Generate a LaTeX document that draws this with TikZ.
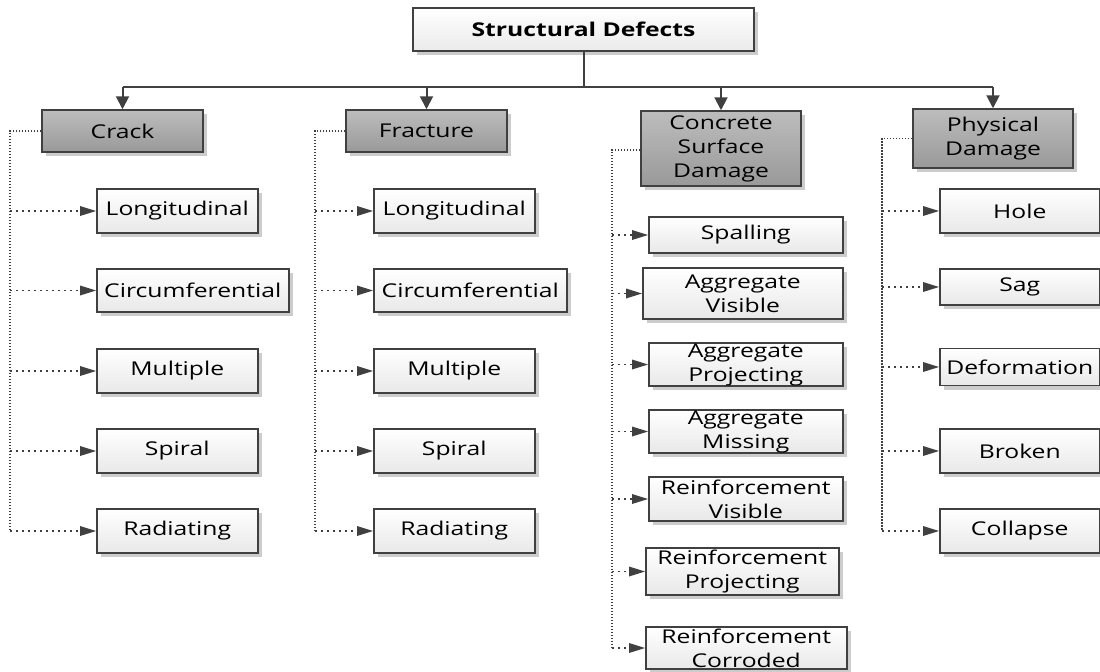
\documentclass[tikz,border=0pt]{standalone}
\usepackage{fontspec}
\setmainfont{Open Sans}[FakeStretch=1.3]
\usetikzlibrary{arrows.meta, shadows}

\definecolor{linegray}{RGB}{64,64,64}

\tikzset{
  box/.style={draw=linegray, line width=0.75pt, inner sep=0pt, align=center,
    font=\fontsize{9.5}{12}\selectfont,
    drop shadow={shadow xshift=2pt, shadow yshift=-2pt, fill=black, opacity=0.2}},
  leafbox/.style={box, top color=white, bottom color=black!9, anchor=west},
  groupbox/.style={box, top color=black!26, bottom color=black!40},
  rootbox/.style={box, top color=white, bottom color=black!8, font=\fontsize{9.5}{12}\selectfont\bfseries},
  busline/.style={draw=linegray, line width=1pt},
  busarrow/.style={busline, -{Triangle[width=6.5pt, length=6.5pt]}},
  spine/.style={draw=linegray, line width=0.7pt, dash pattern=on 0.7pt off 0.8pt},
  twig/.style={draw=linegray, line width=0.7pt, dash pattern=on 0.8pt off 2.2pt,
    -{Triangle[width=5pt, length=8pt, line width=0pt]}}
}

\begin{document}
\begin{tikzpicture}[x=0.5pt, y=-0.5pt]
  \useasboundingbox (0,0) rectangle (1100,671);

  \node[rootbox, minimum width=170.5pt, minimum height=21.5pt] (root) at (583.5,29.5) {Structural Defects};

  \node[groupbox, minimum width=80.5pt, minimum height=21pt] (crack) at (122.5,131) {Crack};
  \node[groupbox, minimum width=80.5pt, minimum height=21pt] (fracture) at (426.5,131) {Fracture};
  \node[groupbox, minimum width=80pt, minimum height=37.5pt] (surface) at (721,148.5) {Concrete\\Surface\\Damage};
  \node[groupbox, minimum width=80pt, minimum height=29.5pt] (physical) at (993,138.5) {Physical\\Damage};

  \coordinate (bus) at (583.5,87);
  \draw[busline] (root.south) -- (bus);
  \draw[busline] (crack.north |- bus) -- (physical.north |- bus);
  \draw[busarrow] (crack.north |- bus) -- (crack.north);
  \draw[busarrow] (fracture.north |- bus) -- (fracture.north);
  \draw[busarrow] (surface.north |- bus) -- (surface.north);
  \draw[busarrow] (physical.north |- bus) -- (physical.north);

  % crack
  \node[leafbox, minimum width=80.5pt, minimum height=22pt] (c1) at (96,211) {Longitudinal};
  \node[leafbox, minimum width=96pt, minimum height=21.5pt] (c2) at (96,290.5) {Circumferential};
  \node[leafbox, minimum width=80.5pt, minimum height=22pt] (c3) at (96,371) {Multiple};
  \node[leafbox, minimum width=80.5pt, minimum height=22pt] (c4) at (96,451) {Spiral};
  \node[leafbox, minimum width=80.5pt, minimum height=22pt] (c5) at (96,531) {Radiating};
  \coordinate (cs) at (10,131);
  \draw[spine] (crack.west) -- (cs) -- (cs |- c5.west);
  \draw[twig] (cs |- c1.west) -- (c1.west);
  \draw[twig] (cs |- c2.west) -- (c2.west);
  \draw[twig] (cs |- c3.west) -- (c3.west);
  \draw[twig] (cs |- c4.west) -- (c4.west);
  \draw[twig] (cs |- c5.west) -- (c5.west);

  % fracture
  \node[leafbox, minimum width=80.5pt, minimum height=22pt] (f1) at (373,211) {Longitudinal};
  \node[leafbox, minimum width=96.5pt, minimum height=21.5pt] (f2) at (373,290.5) {Circumferential};
  \node[leafbox, minimum width=80.5pt, minimum height=22pt] (f3) at (373,371) {Multiple};
  \node[leafbox, minimum width=80.5pt, minimum height=22pt] (f4) at (373,451) {Spiral};
  \node[leafbox, minimum width=80.5pt, minimum height=22pt] (f5) at (373,531) {Radiating};
  \coordinate (fs) at (315,131);
  \draw[spine] (fracture.west) -- (fs) -- (fs |- f5.west);
  \draw[twig] (fs |- f1.west) -- (f1.west);
  \draw[twig] (fs |- f2.west) -- (f2.west);
  \draw[twig] (fs |- f3.west) -- (f3.west);
  \draw[twig] (fs |- f4.west) -- (f4.west);
  \draw[twig] (fs |- f5.west) -- (f5.west);

  % concrete surface damage
  \node[leafbox, minimum width=97pt, minimum height=18pt] (s1) at (648,235) {Spalling};
  \node[leafbox, minimum width=100pt, minimum height=25.5pt] (s2) at (642,293.5) {Aggregate\\Visible};
  \node[leafbox, minimum width=97pt, minimum height=21.5pt] (s3) at (648,364.5) {Aggregate\\Projecting};
  \node[leafbox, minimum width=97pt, minimum height=21.5pt] (s4) at (648,431.5) {Aggregate\\Missing};
  \node[leafbox, minimum width=97pt, minimum height=22pt] (s5) at (648,499) {Reinforcement\\Visible};
  \node[leafbox, minimum width=96.5pt, minimum height=23.5pt] (s6) at (645,571.5) {Reinforcement\\Projecting};
  \node[leafbox, minimum width=100.5pt, minimum height=21pt] (s7) at (645,648) {Reinforcement\\Corroded};
  \coordinate (ss) at (612,150);
  \draw[spine] (surface.west |- ss) -- (ss) -- (ss |- s7.west);
  \draw[twig] (ss |- s1.west) -- (s1.west);
  \draw[twig] (ss |- s2.west) -- (s2.west);
  \draw[twig] (ss |- s3.west) -- (s3.west);
  \draw[twig] (ss |- s4.west) -- (s4.west);
  \draw[twig] (ss |- s5.west) -- (s5.west);
  \draw[twig] (ss |- s6.west) -- (s6.west);
  \draw[twig] (ss |- s7.west) -- (s7.west);

  % physical damage
  \node[leafbox, minimum width=80pt, minimum height=22pt] (p1) at (939,211) {Hole};
  \node[leafbox, minimum width=80pt, minimum height=18pt] (p2) at (939,287) {Sag};
  \node[leafbox, minimum width=80pt, minimum height=18.5pt] (p3) at (939,367) {Deformation};
  \node[leafbox, minimum width=80pt, minimum height=22pt] (p4) at (939,451) {Broken};
  \node[leafbox, minimum width=80pt, minimum height=22pt] (p5) at (939,531) {Collapse};
  \coordinate (ps) at (882,138.5);
  \draw[spine] (physical.west) -- (ps) -- (ps |- p5.west);
  \draw[twig] (ps |- p1.west) -- (p1.west);
  \draw[twig] (ps |- p2.west) -- (p2.west);
  \draw[twig] (ps |- p3.west) -- (p3.west);
  \draw[twig] (ps |- p4.west) -- (p4.west);
  \draw[twig] (ps |- p5.west) -- (p5.west);
\end{tikzpicture}
\end{document}
